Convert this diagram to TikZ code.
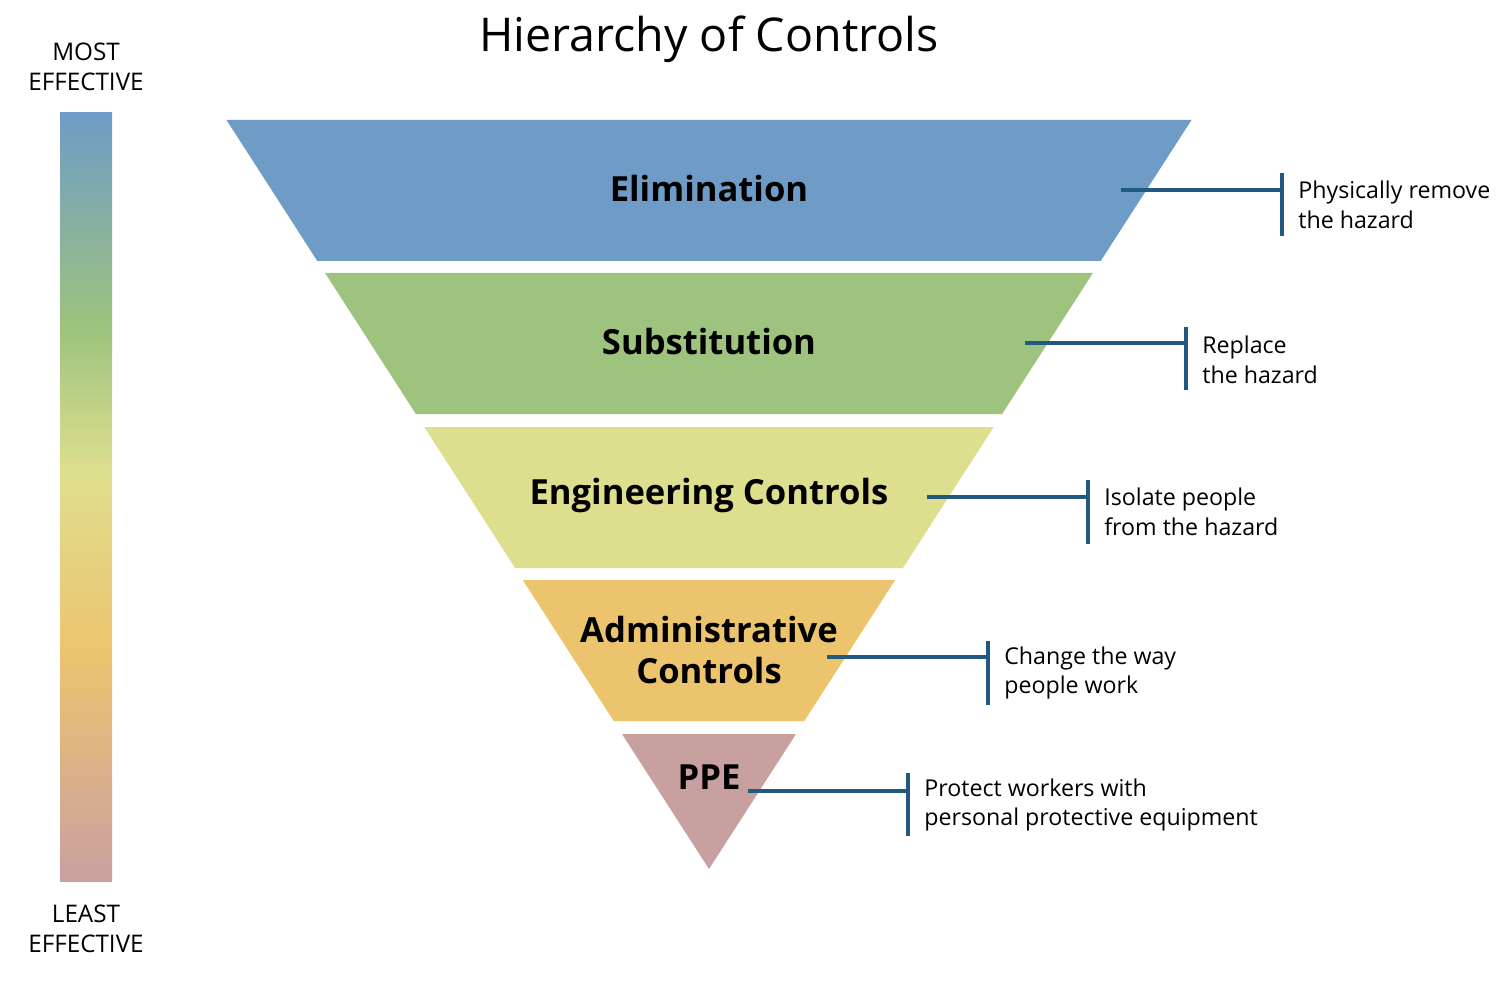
\documentclass[tikz,border=0pt]{standalone}
\usepackage{fontspec}
\setmainfont{Open Sans}
\definecolor{cblue}{HTML}{6F9CC6}
\definecolor{cgreen}{HTML}{9DC37E}
\definecolor{cyellow}{HTML}{DEDF8E}
\definecolor{corange}{HTML}{EDC46E}
\definecolor{cpink}{HTML}{C9A0A0}
\definecolor{cline}{HTML}{21597F}
\pgfdeclareverticalshading{effbar}{100bp}{
  color(0bp)=(cpink); color(25bp)=(cpink); color(40bp)=(corange);
  color(51.5bp)=(cyellow); color(61bp)=(cgreen); color(75bp)=(cblue); color(100bp)=(cblue)}
\begin{document}
\begin{tikzpicture}[x=0.02cm,y=-0.02cm,
  lvl/.style={font=\fontsize{19.7}{23}\selectfont\bfseries, align=center, text=black},
  note/.style={font=\fontsize{13.2}{17}\selectfont, align=left, anchor=west, text=black, inner sep=0pt},
  side/.style={font=\fontsize{13.8}{17}\selectfont, align=center, text=black, inner sep=0pt},
  conn/.style={draw=cline, line width=1.8pt}]
\useasboundingbox[fill=white] (0,0) rectangle (1512,983);
% title
\node[font=\fontsize{26.5}{30}\selectfont] (title) at (709,39) {Hierarchy of Controls};
% gradient bar
\node[side] (most) at (86,67) {MOST\\EFFECTIVE};
\node[side] (least) at (86,929) {LEAST\\EFFECTIVE};
\shade[shading=effbar] (60,113) rectangle (112,881);
% bands
\fill[cblue]   (226.5,120) -- (1191.5,120) -- (1100.7,261) -- (317.3,261) -- cycle;
\fill[cgreen]  (325.1,273) -- (1092.9,273) -- (1002.1,414) -- (415.9,414) -- cycle;
\fill[cyellow] (424.3,427) -- (993.7,427) -- (902.9,568) -- (515.1,568) -- cycle;
\fill[corange] (522.8,580) -- (895.2,580) -- (804.3,721) -- (613.7,721) -- cycle;
\fill[cpink]   (622,734) -- (796,734) -- (709,869) -- cycle;
% level labels
\node[lvl] (elim) at (709,189) {Elimination};
\node[lvl] (subs) at (709,342) {Substitution};
\node[lvl] (eng) at (709,496) {Engineering Controls};
\node[lvl] (adm) at (709,650) {Administrative\\Controls};
\node[lvl] (ppe) at (709,777) {PPE};
% connectors
\coordinate (s1) at (1121,190); \coordinate (b1t) at (1282,173); \coordinate (b1b) at (1282,236); \coordinate (b1) at (1282,190);
\coordinate (s2) at (1025,343); \coordinate (b2t) at (1186,327); \coordinate (b2b) at (1186,390); \coordinate (b2) at (1186,343);
\coordinate (s3) at (927,497);  \coordinate (b3t) at (1088,480); \coordinate (b3b) at (1088,544); \coordinate (b3) at (1088,497);
\coordinate (s4) at (827,657);  \coordinate (b4t) at (988,641);  \coordinate (b4b) at (988,705);  \coordinate (b4) at (988,657);
\coordinate (s5) at (748,791);  \coordinate (b5t) at (908,773);  \coordinate (b5b) at (908,836);  \coordinate (b5) at (908,791);
\foreach \i in {1,...,5}{
  \draw[conn] (s\i) -- (b\i);
  \draw[conn] (b\i t) -- (b\i b);
}
% notes
\node[note] (n1) at (1298,205) {Physically remove\\the hazard};
\node[note] (n2) at (1202,360) {Replace\\the hazard};
\node[note] (n3) at (1104,512) {Isolate people\\from the hazard};
\node[note] (n4) at (1004,673) {Change the way\\people work};
\node[note] (n5) at (924,805) {Protect workers with\\personal protective equipment};
\end{tikzpicture}
\end{document}
